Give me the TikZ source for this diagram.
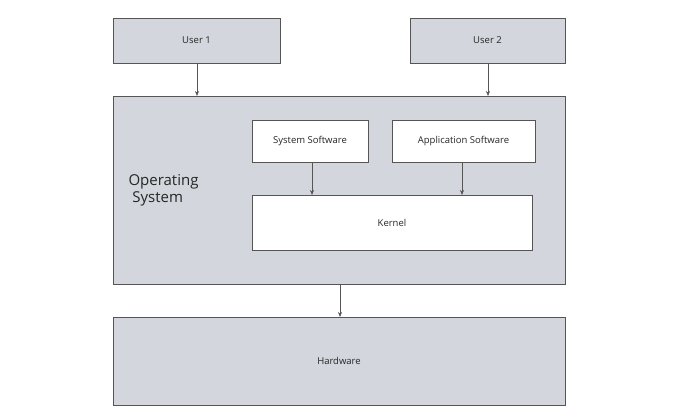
\documentclass[tikz,border=0pt]{standalone}
\usepackage{fontspec}
\setmainfont{Open Sans}
\usetikzlibrary{arrows.meta}
\definecolor{boxgray}{HTML}{D3D6DC}
\definecolor{edge}{HTML}{555555}
\begin{document}
\begin{tikzpicture}[x=1pt,y=-1pt,
  gbox/.style={draw=edge,fill=boxgray,line width=0.6pt},
  wbox/.style={draw=edge,fill=white,line width=0.6pt},
  lbl/.style={font=\fontsize{9.5}{11}\selectfont,text=black!85},
  arr/.style={draw=edge,line width=0.6pt,-{Stealth[length=5pt,width=4pt]}}]
\useasboundingbox (0,0) rectangle (680,419);
\draw[gbox] (113,18) rectangle (280,63); \node[lbl] (u1) at (196.5,40.5) {User 1};
\draw[gbox] (410,18) rectangle (565,63); \node[lbl] (u2) at (487.5,40.5) {User 2};
\draw[gbox] (113,96) rectangle (565,284);
\node[align=left,anchor=west,font=\fontsize{15}{17}\selectfont,text=black!85] (os) at (125,190) {Operating\\\ System};
\draw[wbox] (252,120) rectangle (368,162); \node[lbl] (ss) at (310,141) {System Software};
\draw[wbox] (392,120) rectangle (535,162); \node[lbl] (as) at (463.5,141) {Application Software};
\draw[wbox] (252,195) rectangle (532,250); \node[lbl] (k) at (392,222.5) {Kernel};
\draw[gbox] (113,317) rectangle (565,405); \node[lbl] (hw) at (339,361) {Hardware};
\coordinate (a1) at (197,63); \coordinate (b1) at (197,96);
\coordinate (a2) at (488,63); \coordinate (b2) at (488,96);
\coordinate (a3) at (312,162); \coordinate (b3) at (312,195);
\coordinate (a4) at (462,162); \coordinate (b4) at (462,195);
\coordinate (a5) at (340,284); \coordinate (b5) at (340,317);
\draw[arr] (a1)--(b1); \draw[arr] (a2)--(b2); \draw[arr] (a3)--(b3);
\draw[arr] (a4)--(b4); \draw[arr] (a5)--(b5);
\end{tikzpicture}
\end{document}
